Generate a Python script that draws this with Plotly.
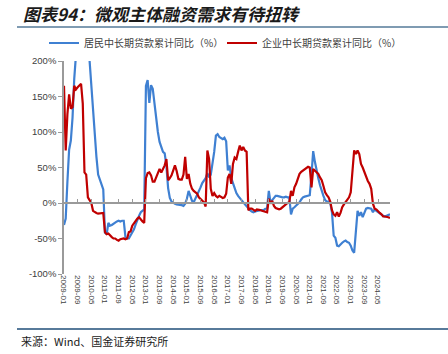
import pandas as pd
import plotly.graph_objects as go

months = [d.strftime("%Y-%m") for d in pd.date_range("2009-01-01", "2024-12-01", freq="MS")]

household = [
    -31, -22, 30, 75, 88, 120, 175, 215, 260, 300, 330, 340,
    320, 290, 245, 200, 163, 125, 92, 65, 40, 32, 26, 19,
    -42, -44, -28, -32, -31, -29, -27, -26, -25, -26, -25, -25,
    -48, -50, -50, -46, -42, -37, -30, -23, -18, -13, -11, -9,
    165, 173, 141, 166, 161, 138, 124, 100, 86, 79, 72, 70,
    52, 21, 7, 2, 0, -1, -2, -2, -3, -3, -4, -1,
    6, 17, 10, 3, 1, 6, 10, 16, 22, 28, 31, 35,
    42, 36, 40, 55, 72, 95, 97, 93, 92, 90, 92, 87,
    46, 53, 35, 27, 20, 14, 10, 6, 4, 1, -2, -5,
    -8, -10, -12, -13, -12, -11, -11, -10, -10, -10, -8, -7,
    17, 1, 4, 8, 10, 10, 9, 8, 8, 8, 9, 8,
    8, -16, -8, -6, -4, -1, 1, 5, 8, 9, 10, 10,
    11, 40, 73, 58, 44, 35, 25, 16, 10, 4, 2, 2,
    0, -13, -46, -49, -60, -61, -58, -56, -54, -53, -55, -56,
    -60, -67, -70, -45, -11, -18, -13, -20, -13, -8, -7, -7,
    -8, -13, -9, -11, -13, -15, -17, -18, -19, -18, -17, -16,
]

enterprise = [
    165, 74, 125, 153, 133, 135, 165, 160, 163, 165, 168, 140,
    43, 40, 8, 4, 0, -11, -13, -14, -15, -15, -14, -14,
    -41, -44, -43, -46, -48, -50, -50, -52, -53, -51, -50, -50,
    -51, -50, -41, -40, -32, -28, -25, -22, -20, -24, -26, -28,
    35, 42, 43, 39, 30, 30, 36, 44, 48, 43, 48, 53,
    62, 32, 35, 39, 46, 53, 45, 34, 33, 33, 40, 65,
    34, 41, 27, 20, 17, 15, 13, 8, 6, 4, 1, -5,
    74, 62, 20, 10, 14, 10, 8, 10, 8, 7, 8, 13,
    36, 41, 27, 55, 64, 62, 72, 81, 74, 79, 74, 72,
    -10, -8, -8, -10, -11, -9, -9, -10, -11, -12, -12, -13,
    6, -1, 3, -4, -7, -8, -9, -8, -6, -4, -1, 0,
    1, 17, 10, 22, 27, 35, 41, 44, 46, 48, 50, 51,
    50, 22, 48, 46, 43, 41, 36, 32, 24, 15, 11, 8,
    2, -10, -16, -18, -13, -19, -14, -6, -2, 1, 5, 8,
    15, 48, 74, 69, 74, 69, 55, 50, 43, 36, 31, 27,
    20, -1, -8, -9, -12, -14, -16, -19, -19, -19, -20, -21,
]

tick_labels = months[::8]
y_ticks = [-100, -50, 0, 50, 100, 150, 200]

name_h = "居民中长期贷款累计同比（%）"
name_e = "企业中长期贷款累计同比（%）"
title_text = "图表94：微观主体融资需求有待扭转"
source_text = "来源：Wind、国金证券研究所"

CJK = "Noto Sans CJK SC"
LAT = "Liberation Sans, Arial"

fig = go.Figure()
fig.add_trace(go.Scatter(x=months, y=household, mode="lines", name=name_h,
                         legend="legend", line=dict(color="#3f80d2", width=2.2)))
fig.add_trace(go.Scatter(x=months, y=enterprise, mode="lines", name=name_e,
                         legend="legend2", line=dict(color="#c00000", width=2.2)))
# helper trace carrying the bottom label axis
fig.add_trace(go.Scatter(x=months, y=[None] * len(months), xaxis="x2", mode="lines",
                         showlegend=False, hoverinfo="skip"))

ymin, ymax = y_ticks[0], y_ticks[-1]
zero_pos = (0 - ymin) / (ymax - ymin)

W, H = 448, 354
L, R, T, B = 64, 58, 61, 80
pw, ph = W - L - R, H - T - B

def px_x(px):
    return (px - L) / pw

def px_y(py):
    return (H - B - py) / ph

legend_common = dict(orientation="h", xanchor="left", yanchor="middle",
                     font=dict(family=CJK, size=10, color="#404040"),
                     bgcolor="rgba(0,0,0,0)", itemwidth=30)

fig.update_layout(
    width=W, height=H,
    margin=dict(l=L, r=R, t=T, b=B),
    paper_bgcolor="white", plot_bgcolor="white",
    showlegend=True,
    legend=dict(x=px_x(44), y=px_y(43), **legend_common),
    legend2=dict(x=px_x(222), y=px_y(43), **legend_common),
    xaxis=dict(type="category", categoryorder="array", categoryarray=months,
               range=[0, len(months) - 1], anchor="free", position=zero_pos,
               showline=True, linecolor="#9a9a9a", linewidth=1.5,
               ticks="inside", ticklen=3, tickcolor="#9a9a9a", tickwidth=1,
               tickmode="array", tickvals=tick_labels, showticklabels=False,
               showgrid=False, zeroline=False),
    xaxis2=dict(type="category", categoryorder="array", categoryarray=months,
                range=[0, len(months) - 1], overlaying="x", anchor="y", side="bottom",
                showline=False, ticks="", tickmode="array", tickvals=tick_labels,
                ticktext=tick_labels, tickangle=90,
                tickfont=dict(family=LAT, size=8, color="#404040"),
                showgrid=False, zeroline=False),
    yaxis=dict(range=[ymin, ymax], tickmode="array", tickvals=y_ticks,
               ticktext=[f"{v}%" for v in y_ticks],
               tickfont=dict(family=LAT, size=9.5, color="#404040"),
               showline=True, linecolor="#9a9a9a", linewidth=1.5,
               ticks="outside", ticklen=4, tickcolor="#9a9a9a",
               showgrid=False, zeroline=False),
    annotations=[
        dict(text="<b>" + title_text + "</b>", x=px_x(21), y=px_y(13),
             xref="paper", yref="paper", xanchor="left", yanchor="middle",
             showarrow=False,
             font=dict(family=CJK, size=17, color="#1a1a1a", style="italic")),
        dict(text=source_text, x=px_x(19), y=px_y(341),
             xref="paper", yref="paper", xanchor="left", yanchor="middle",
             showarrow=False, font=dict(family=CJK, size=11, color="#1a1a1a")),
    ],
    shapes=[
        dict(type="line", xref="paper", yref="paper", x0=px_x(17), x1=px_x(448),
             y0=px_y(27), y1=px_y(27), line=dict(color="#557a99", width=1.5)),
        dict(type="line", xref="paper", yref="paper", x0=px_x(17), x1=px_x(448),
             y0=px_y(329), y1=px_y(329), line=dict(color="#1f4e79", width=1.5)),
    ],
)

fig.write_html("out.html")
